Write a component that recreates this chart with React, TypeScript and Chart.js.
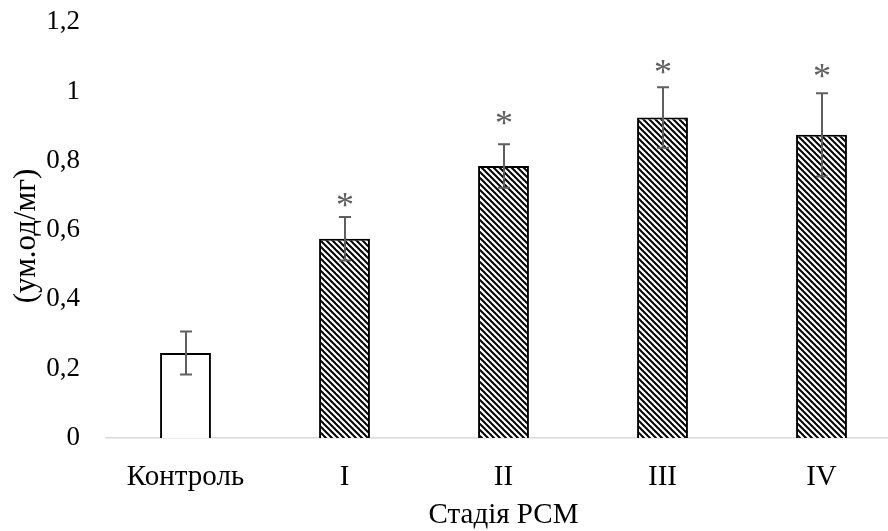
import React, { useEffect, useRef } from "react";
import { Chart, registerables } from "chart.js";

Chart.register(...registerables);

const categories = ["Контроль", "I", "II", "III", "IV"];
const means = [0.245, 0.575, 0.785, 0.925, 0.875];
const errors = [0.062, 0.063, 0.063, 0.087, 0.12];
const hatched = [false, true, true, true, true];
const starLevels: (number | null)[] = [null, 0.677, 0.914, 1.06, 1.049];
const yTicks = [0, 0.2, 0.4, 0.6, 0.8, 1, 1.2];
const yTitle = "(ум.од/мг)";
const xTitle = "Стадія РСМ";

const FONT = "'Liberation Serif', 'Times New Roman', serif";
const SHIFT = 20;

function makeHatch(): CanvasPattern | string {
  const s = 6;
  const c = document.createElement("canvas");
  c.width = s;
  c.height = s;
  const g = c.getContext("2d");
  if (!g) return "#888";
  g.fillStyle = "#fff";
  g.fillRect(0, 0, s, s);
  g.strokeStyle = "#000";
  g.lineWidth = 2;
  for (let k = -1; k <= 1; k++) {
    g.beginPath();
    g.moveTo(-2 + k * s, -2);
    g.lineTo(s + 2 + k * s, s + 2);
    g.stroke();
  }
  const p = g.createPattern(c, "repeat");
  return p || "#888";
}

const annotPlugin = {
  id: "annot",
  afterDatasetsDraw(chart: any) {
    const ctx = chart.ctx;
    const x = chart.scales.x;
    const y = chart.scales.y;
    const area = chart.chartArea;
    ctx.save();
    ctx.strokeStyle = "#5f5f5f";
    ctx.lineWidth = 2;
    means.forEach((m, i) => {
      const cx = Math.round(x.getPixelForValue(i));
      const top = y.getPixelForValue(m + errors[i]);
      const bot = y.getPixelForValue(m - errors[i]);
      ctx.beginPath();
      ctx.moveTo(cx, top);
      ctx.lineTo(cx, bot);
      ctx.moveTo(cx - 6, top);
      ctx.lineTo(cx + 6, top);
      ctx.moveTo(cx - 6, bot);
      ctx.lineTo(cx + 6, bot);
      ctx.stroke();
      const s = starLevels[i];
      if (s !== null) {
        ctx.fillStyle = "#5f5f5f";
        ctx.font = `36px ${FONT}`;
        ctx.textAlign = "center";
        ctx.textBaseline = "middle";
        ctx.fillText("*", cx, y.getPixelForValue(s) + 4);
      }
    });
    ctx.fillStyle = "#000";
    ctx.font = `29px ${FONT}`;
    ctx.textAlign = "center";
    ctx.textBaseline = "middle";
    ctx.fillText(xTitle, (area.left + area.right) / 2, 515 + SHIFT);
    ctx.font = `31px ${FONT}`;
    ctx.translate(27, 236 + SHIFT);
    ctx.rotate(-Math.PI / 2);
    ctx.fillText(yTitle, 0, 0);
    ctx.restore();
  },
};

export default function App() {
  const ref = useRef<HTMLCanvasElement | null>(null);
  useEffect(() => {
    if (!ref.current) return;
    const hatch = makeHatch();
    const chart = new Chart(ref.current, {
      type: "bar",
      data: {
        labels: categories,
        datasets: [
          {
            data: means,
            backgroundColor: hatched.map((h) => (h ? hatch : "#ffffff")) as any,
            borderColor: "#000",
            borderWidth: 2,
            borderSkipped: "bottom",
            categoryPercentage: 1,
            barPercentage: 0.32,
          },
        ],
      },
      options: {
        animation: false,
        responsive: false,
        devicePixelRatio: 1,
        layout: { padding: { top: 0, right: 0, left: 0, bottom: 0 } },
        plugins: { legend: { display: false }, tooltip: { enabled: false } },
        scales: {
          x: {
            offset: true,
            grid: { display: false, drawTicks: false },
            border: { display: true, color: "#d9d9d9", width: 1.5 },
            ticks: {
              color: "#000",
              font: { family: FONT, size: 29 },
              padding: 22,
              maxRotation: 0,
            },
            afterFit: (s: any) => {
              s.height = 93;
            },
          },
          y: {
            min: 0,
            max: 1.2,
            afterBuildTicks: (s: any) => {
              s.ticks = yTicks.map((v) => ({ value: v }));
            },
            grid: { display: false, drawTicks: false },
            border: { display: false },
            ticks: {
              color: "#000",
              font: { family: FONT, size: 27 },
              padding: 26,
              callback: (v: any) => String(Math.round(Number(v) * 10) / 10).replace(".", ","),
            },
            afterFit: (s: any) => {
              s.width = 106;
            },
          },
        },
      },
      plugins: [annotPlugin],
    });
    return () => chart.destroy();
  }, []);
  return (
    <div style={{ position: "fixed", left: 0, top: 0, width: 888, height: 531, overflow: "hidden", background: "#fff" }}>
      <canvas ref={ref} width={901} height={531 + SHIFT} style={{ display: "block", marginTop: -SHIFT }} />
    </div>
  );
}
